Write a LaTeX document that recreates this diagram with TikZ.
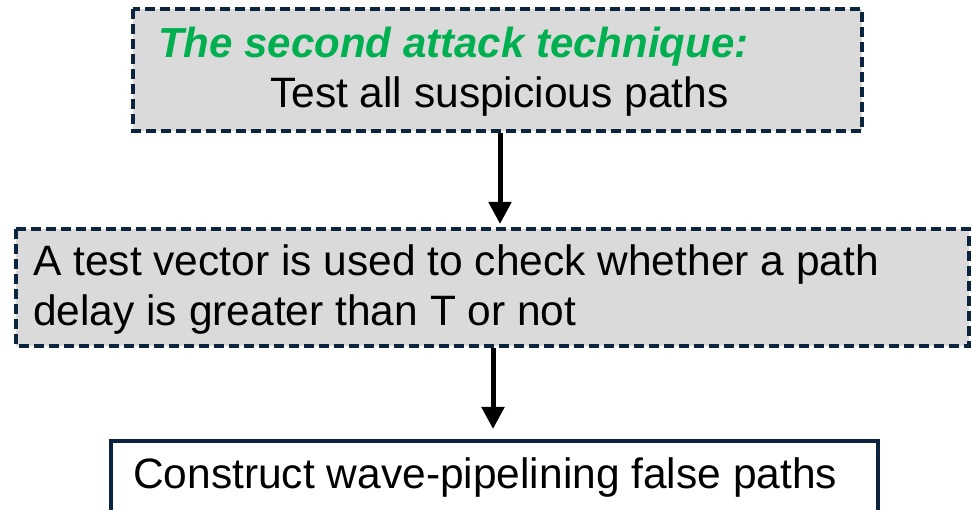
\documentclass[tikz,border=0pt]{standalone}
\usepackage{fontspec}
\setmainfont{Liberation Sans}
\usetikzlibrary{arrows.meta}
\definecolor{navy}{HTML}{0B2540}
\definecolor{boxgray}{HTML}{DADADA}
\definecolor{techgreen}{HTML}{00B050}
\tikzset{
  dbox/.style={draw=navy, fill=boxgray, line width=4pt, dash pattern=on 10pt off 5pt},
  sbox/.style={draw=navy, fill=white, line width=4pt},
  txt/.style={font=\fontsize{42.5}{50}\selectfont, inner sep=0pt, anchor=west},
  conn/.style={line width=5pt, -{Triangle[length=22pt,width=22pt]}}
}
\begin{document}
\begin{tikzpicture}[x=1pt,y=-1pt]
\useasboundingbox (0,0) rectangle (972,510);
\begin{scope}
\clip (0,0) rectangle (972,510);
\draw[dbox] (133,9) rectangle (862,131);
\draw[dbox] (16,229) rectangle (969,346);
\draw[sbox] (111,441) rectangle (878,530);
\end{scope}
\node[txt, text=techgreen, font=\fontsize{42}{50}\selectfont\bfseries\itshape] (t1) at (158,47) {The second attack technique:};
\node[txt] (t2) at (270,97) {Test all suspicious paths};
\node[txt, align=left] (t3) at (33,290) {A test vector is used to check whether a path\\delay is greater than T or not};
\node[txt] (t4) at (133,478) {Construct wave-pipelining false paths};
\coordinate (a1s) at (500,133);
\coordinate (a1e) at (500,224);
\coordinate (a2s) at (493,348);
\coordinate (a2e) at (493,429);
\draw[conn] (a1s) -- (a1e);
\draw[conn] (a2s) -- (a2e);
\end{tikzpicture}
\end{document}
